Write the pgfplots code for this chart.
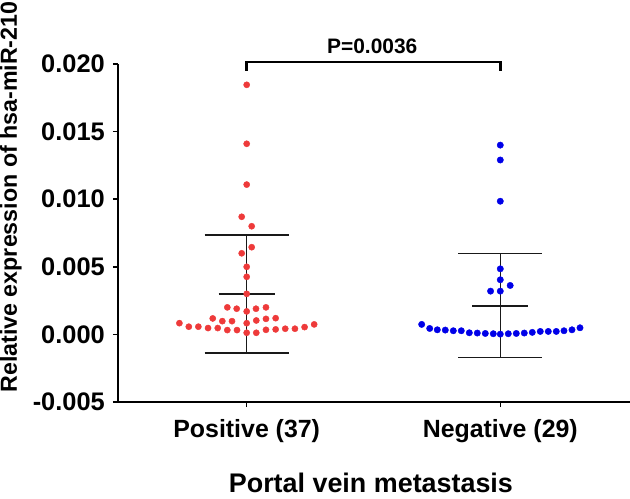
\documentclass[border=0pt]{standalone}
\usepackage{fontspec}
\setmainfont{Liberation Sans}
\usepackage{pgfplots}
\pgfplotsset{compat=1.18}
\definecolor{redpt}{RGB}{238,58,58}
\definecolor{bluept}{RGB}{0,0,232}
\definecolor{barcol}{RGB}{25,25,25}
\begin{document}
\begin{tikzpicture}
\begin{axis}[
  scale only axis, width=512bp, height=338bp,
  xmin=-0.5075, xmax=1.5115, ymin=-0.005, ymax=0.020,
  axis lines=left, axis line style={-, line width=1.6bp, black},
  clip=false,
  xtick={0,1}, xticklabels={Positive (37),Negative (29)},
  ytick={-0.005,0,0.005,0.010,0.015,0.020},
  scaled y ticks=false,
  y tick label style={/pgf/number format/fixed, /pgf/number format/fixed zerofill, /pgf/number format/precision=3, /pgf/number format/assume math mode=true},
  tick align=outside, major tick length=5bp,
  tick style={line width=1.5bp, black},
  xticklabel style={font=\fontsize{25}{30}\selectfont\bfseries, anchor=base, yshift=-30bp, inner sep=0pt},
  yticklabel style={font=\fontsize{25.5}{30}\selectfont\bfseries, anchor=east, inner sep=0pt, xshift=-8bp},
  xlabel={Portal vein metastasis},
  xlabel style={font=\fontsize{27}{32}\selectfont\bfseries, at={(axis description cs:0.494,-0.2685)}, anchor=base, inner sep=0pt},
  ylabel={Relative expression of hsa-miR-210},
  ylabel style={font=\fontsize{23.3}{28}\selectfont\bfseries, at={(axis description cs:-0.209,0.6065)}, anchor=center, inner sep=0pt},
]
\coordinate (ll) at (rel axis cs:0,0);
% Positive group
\addplot[only marks, mark=*, mark size=3.1bp, color=redpt, mark options={draw=redpt, fill=redpt}] coordinates {
(0,0.01846) (0,0.0141) (0,0.01108) (-0.0197,0.0087) (0.0197,0.0080) (0.0197,0.00645) (-0.0197,0.0060) (0,0.0050) (0,0.00426) (0,0.0030)
(-0.0764,0.0020) (-0.0394,0.0019) (0,0.0017) (0.0366,0.0019) (0.076,0.0020)
(-0.1339,0.00118) (-0.0961,0.00098) (-0.0579,0.00098) (0,0.00083) (0.0378,0.00103) (0.076,0.00115) (0.1142,0.0012)
(-0.2654,0.00083) (-0.2283,0.00057) (-0.1906,0.00057) (-0.1524,0.00047) (-0.1142,0.00047) (-0.0764,0.00032) (-0.0382,0.00032) (0,0.00012) (0.0378,0.00012) (0.076,0.00034) (0.1142,0.00037) (0.152,0.00042) (0.1902,0.00042) (0.2283,0.00054) (0.2661,0.00074)
};
% Negative group
\addplot[only marks, mark=*, mark size=3.2bp, color=bluept, mark options={draw=bluept, fill=bluept}] coordinates {
(1,0.0140) (1,0.0129) (1,0.00985)
(1,0.00485) (1,0.00404) (1.039,0.00362) (0.9617,0.0032) (1,0.0032)
(0.690,0.00074) (0.7216,0.00044) (0.7516,0.00034) (0.7831,0.00032) (0.8147,0.00027) (0.8462,0.00027) (0.8778,0.00012) (0.9093,0.00010) (0.9409,0.00007) (0.9724,0.00005) (1.0,0.00002) (1.0315,0.00005) (1.0631,0.00007) (1.0946,0.00010) (1.1262,0.00015) (1.1577,0.00022) (1.1893,0.00022) (1.2208,0.00022) (1.2512,0.00027) (1.2827,0.00034) (1.3143,0.00049)
};
% error bars positive
\addplot[barcol, line width=1.3bp] coordinates {(0,-0.00138) (0,0.00735)};
\addplot[barcol, line width=1.3bp] coordinates {(-0.1656,0.00735) (0.1656,0.00735)};
\addplot[barcol, line width=1.3bp] coordinates {(-0.1656,-0.00138) (0.1656,-0.00138)};
\addplot[barcol, line width=2.2bp] coordinates {(-0.1104,0.00299) (0.1104,0.00299)};
% error bars negative
\addplot[barcol, line width=1.3bp] coordinates {(1,-0.00172) (1,0.00596)};
\addplot[barcol, line width=1.3bp] coordinates {(0.8344,0.00596) (1.1656,0.00596)};
\addplot[barcol, line width=1.3bp] coordinates {(0.8344,-0.00172) (1.1656,-0.00172)};
\addplot[barcol, line width=2.2bp] coordinates {(0.8896,0.00213) (1.1104,0.00213)};
% significance bracket
\addplot[black, line width=2.8bp, line join=miter] coordinates {(0,0.01950) (0,0.02015) (1,0.02015) (1,0.01950)};
\node[anchor=base, inner sep=0pt, font=\fontsize{21}{25}\selectfont\bfseries] at (axis cs:0.495,0.02074) {P=0.0036};
\end{axis}
\pgfresetboundingbox
\path[use as bounding box] (ll) ++(-118bp,-97bp) rectangle ++(630bp,499bp);
\end{tikzpicture}
\end{document}
